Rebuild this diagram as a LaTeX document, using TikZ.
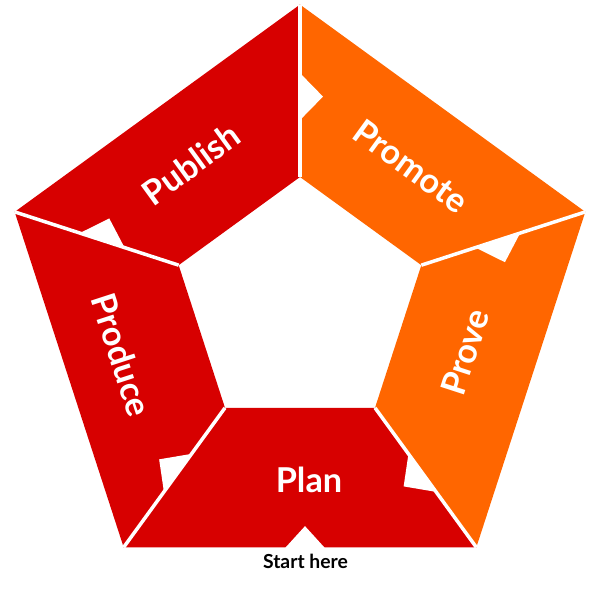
\documentclass[tikz,border=0pt]{standalone}
\usepackage{fontspec}
\setmainfont{Lato}
\usetikzlibrary{calc}
\definecolor{cyclered}{HTML}{D70000}
\definecolor{cycleorange}{HTML}{FF6600}
\begin{document}
\begin{tikzpicture}
	\tikzstyle{lbl} = [text=white, inner sep=0pt, font=\bfseries\fontsize{19.5}{23}\selectfont]
	\tikzstyle{gap} = [draw=white, line width=0.07cm]
	\useasboundingbox (-6,-5.908) rectangle (6,6.092);
  % Ecken
  \foreach \i in {0,...,4} {
    \coordinate (o\i) at ({90+72*\i}:6);
    \coordinate (n\i) at ({90+72*\i}:2.552);
  }

  % Felder
  \fill[cyclered] (o0) -- (o1) -- (n1) -- (n0) -- cycle;
  \fill[cyclered] (o1) -- (o2) -- (n2) -- (n1) -- cycle;
  \fill[cyclered] (o2) -- (o3) -- (n3) -- (n2) -- cycle;
  \fill[cycleorange] (o3) -- (o4) -- (n4) -- (n3) -- cycle;
  \fill[cycleorange] (o4) -- (o0) -- (n0) -- (n4) -- cycle;

  % Kerben
  \foreach \a in {90,162,234,306,378}
    \fill[white] (\a:4.63) -- ($(\a:4.16)+(\a-90:0.46)$) -- (\a:3.69) -- cycle;
  \fill[white] (-0.3,-4.87) -- (0.1,-4.43) -- (0.5,-4.87) -- cycle;

  % Trennlinien
  \foreach \i in {0,...,4}
    \draw[gap] (o\i) -- (n\i);

  % Texte
  \node[lbl, rotate=36] (publish) at (-2.18,2.81) {Publish};
  \node[lbl, rotate=-36] (promote) at (2.22,2.77) {Promote};
  \node[lbl, rotate=72] (prove) at (3.30,-0.95) {Prove};
  \node[lbl, rotate=-72] (produce) at (-3.56,-1.01) {Produce};
  \node[lbl] (plan) at (0.18,-3.51) {Plan};
  \node[inner sep=0pt, font=\bfseries\fontsize{11}{13}\selectfont] (start) at (0.11,-5.14) {Start here};
\end{tikzpicture}
\end{document}
